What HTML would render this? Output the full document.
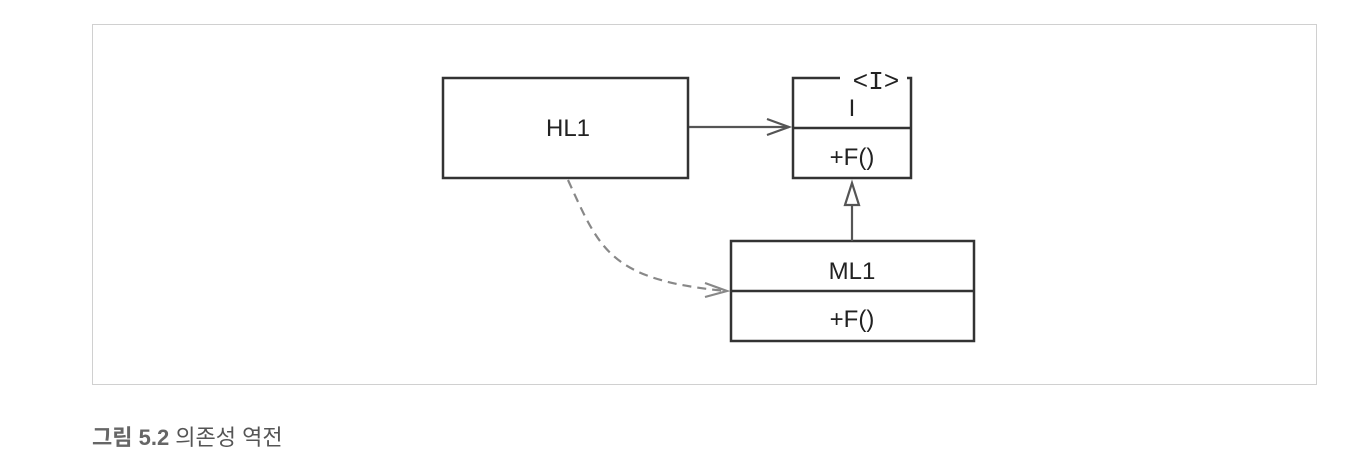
<!DOCTYPE html>
<html><head><meta charset="utf-8"><style>
body{margin:0;width:1355px;height:461px;background:#fff;overflow:hidden;font-family:"Liberation Sans","Noto Sans CJK KR",sans-serif}
</style></head><body>
<svg width="1355" height="461" xmlns="http://www.w3.org/2000/svg" style="position:absolute;left:0;top:0">
<rect x="92.5" y="24.5" width="1224" height="360" fill="#fff" stroke="#d0d0d0" stroke-width="1"/>
<g fill="none" stroke="#333" stroke-width="2.5">
<rect x="443" y="78" width="245" height="100"/>
<path d="M840 78 H793 V178 H911 V78 H907"/>
<line x1="793" y1="128" x2="911" y2="128"/>
<rect x="731" y="241" width="243" height="100"/>
<line x1="731" y1="291" x2="974" y2="291"/>
</g>
<g fill="none" stroke="#555" stroke-width="2.2">
<line x1="689" y1="127" x2="789" y2="127"/>
<path d="M767 119 L789 127 L767 135"/>
<line x1="852" y1="241" x2="852" y2="205"/>
<path d="M845 205 L852 183 L859 205 Z"/>
</g>
<g fill="none" stroke="#888" stroke-width="2.2">
<path d="M568 180 C600 250, 610 280, 726 291" stroke-dasharray="9,6"/>
<path d="M705 283 L727 291 L705 297"/>
</g>
<g font-size="24" fill="#222" text-anchor="middle" font-family="Liberation Sans,sans-serif">
<text x="568" y="136">HL1</text>
<text x="876" y="89" font-family="Liberation Mono,monospace" font-size="26">&lt;I&gt;</text>
<text x="852" y="116">I</text>
<text x="852" y="165">+F()</text>
<text x="852" y="279">ML1</text>
<text x="852" y="327">+F()</text>
</g>
<text x="92" y="445" font-size="22" fill="#555" font-family="Liberation Sans,Noto Sans CJK KR,sans-serif"><tspan font-weight="bold" fill="#666">그림 5.2</tspan> 의존성 역전</text>
</svg>
</body></html>
